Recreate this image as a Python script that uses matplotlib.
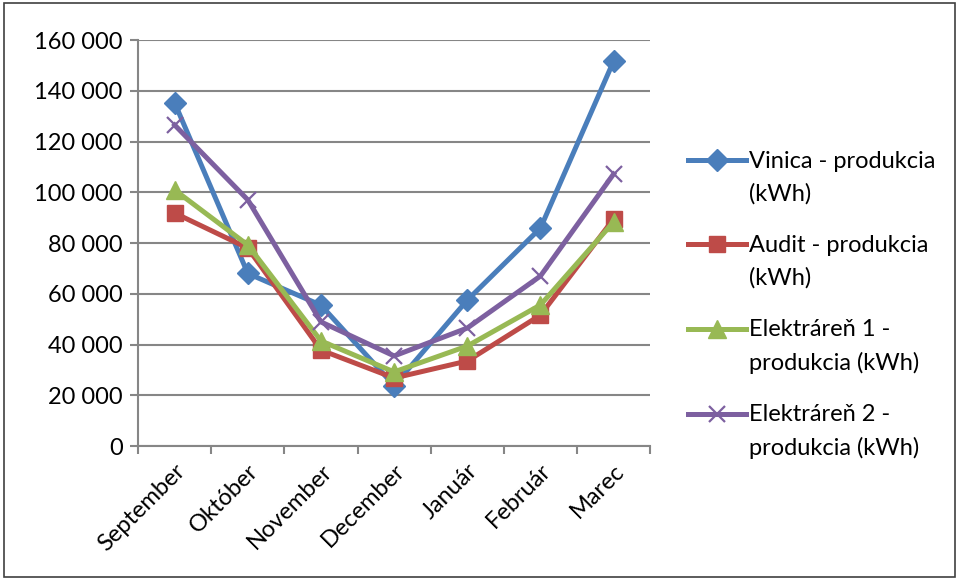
import matplotlib.pyplot as plt
from matplotlib.patches import Rectangle
from matplotlib.ticker import FuncFormatter, MultipleLocator
from matplotlib.legend_handler import HandlerLine2D
from matplotlib.transforms import Affine2D
import numpy as np

months = ["September", "Október", "November", "December", "Január", "Február", "Marec"]

vinica = [135200, 68000, 55500, 23800, 57500, 85900, 151700]
audit = [91800, 78000, 37800, 26800, 33500, 51600, 89500]
elektraren1 = [100900, 79200, 41400, 29200, 39400, 55600, 88300]
elektraren2 = [126500, 97000, 48900, 35500, 46500, 67000, 107200]

labels = ["Vinica - produkcia\n(kWh)",
          "Audit - produkcia\n(kWh)",
          "Elektráreň 1 -\nprodukcia (kWh)",
          "Elektráreň 2 -\nprodukcia (kWh)"]


class FirstLineHandler(HandlerLine2D):
    # keep the legend key level with the first line of a two-line label
    def create_artists(self, legend, orig_handle, xdescent, ydescent, width, height, fontsize, trans):
        arts = super().create_artists(legend, orig_handle, xdescent, ydescent,
                                      width, height, fontsize, trans)
        for a in arts:
            a.set_transform(a.get_transform() + Affine2D().translate(0, 18))
        return arts


plt.rcParams['font.family'] = ['Lato', 'DejaVu Sans']

fig = plt.figure(figsize=(9.59, 5.8), dpi=100)
ax = fig.add_axes([0.144, 0.231, 0.534, 0.70])

x = np.arange(len(months))
grid_col = "#868686"

ax.plot(x, vinica, color="#4A7EBB", lw=3.6, marker="D", ms=11, label=labels[0], zorder=3)
ax.plot(x, audit, color="#BE4B48", lw=3.6, marker="s", ms=12, label=labels[1], zorder=3)
ax.plot(x, elektraren1, color="#98B954", lw=3.6, marker="^", ms=13, label=labels[2], zorder=4)
ax.plot(x, elektraren2, color="#7D60A0", lw=3.6, marker="x", ms=12, mew=1.6, label=labels[3], zorder=5)

ax.set_xlim(-0.5, len(months) - 0.5)
ax.set_ylim(0, 160000)
ax.yaxis.set_major_locator(MultipleLocator(20000))
ax.yaxis.set_major_formatter(FuncFormatter(lambda v, p: f"{int(v):,}".replace(",", " ")))
ax.yaxis.grid(True, color=grid_col, lw=1.5)
ax.set_axisbelow(True)

# category boundary ticks, labels centred on categories
ax.set_xticks(np.arange(-0.5, len(months) + 0.5, 1))
ax.set_xticklabels([])
ax.set_xticks(x, minor=True)
ax.set_xticklabels(months, minor=True, rotation=45, ha="right", rotation_mode="anchor", fontsize=17)
ax.tick_params(axis="x", which="minor", length=0, pad=10)
ax.tick_params(axis="x", which="major", length=6, width=1.5, color=grid_col)
ax.tick_params(axis="y", length=6, width=1.5, color=grid_col, labelsize=17, pad=5)

for s in ["top", "right"]:
    ax.spines[s].set_visible(False)
for s in ["left", "bottom"]:
    ax.spines[s].set_color(grid_col)
    ax.spines[s].set_linewidth(1.5)

leg = fig.legend(loc="center left", bbox_to_anchor=(0.708, 0.474), frameon=False,
                 fontsize=17, handlelength=2.45, handletextpad=0.12, labelspacing=1.3,
                 borderaxespad=0, handler_map={plt.Line2D: FirstLineHandler()})
for t in leg.get_texts():
    t.set_linespacing(1.62)

fig.patches.append(Rectangle((0.004, 0.005), 0.992, 0.99, transform=fig.transFigure,
                             fill=False, edgecolor="#404040", lw=1.2))

fig.savefig("out.png", dpi=100)
